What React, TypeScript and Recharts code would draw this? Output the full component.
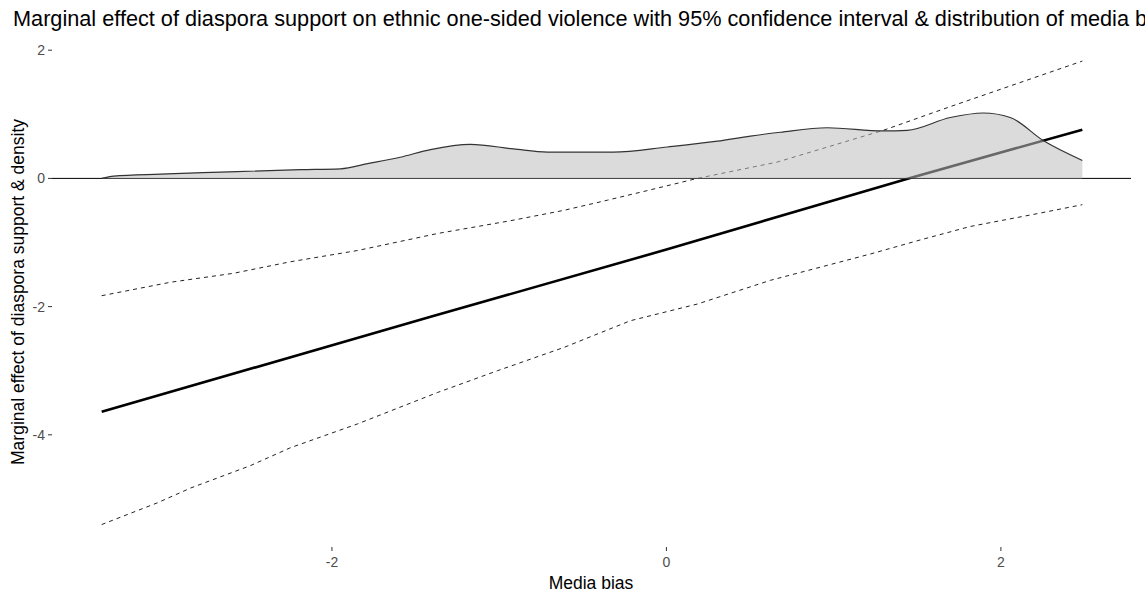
import { ComposedChart, Line, Area, XAxis, YAxis, ReferenceLine } from "recharts"

// marginal effect (solid line)
const effectX = [-3.377, -1.41, 0, 1.447, 2.487]
const effectY = [-3.64, -2.16, -1.11, 0, 0.76]

// upper bound of the 95% interval
const upperX = [-3.377, -2.965, -2.588, -2.247, -1.847, -1.369, -0.932, -0.616, -0.353, -0.114, 0.185, 0.663, 1.297, 1.698, 2.098, 2.487]
const upperY = [-1.83, -1.62, -1.48, -1.3, -1.125, -0.86, -0.66, -0.5, -0.34, -0.19, 0.0, 0.255, 0.75, 1.12, 1.48, 1.83]

// lower bound of the 95% interval
const lowerX = [-3.377, -3.043, -2.845, -2.487, -2.247, -1.847, -1.369, -1.01, -0.616, -0.215, 0.185, 0.622, 1.219, 1.518, 1.817, 2.218, 2.487]
const lowerY = [-5.4, -5.06, -4.83, -4.48, -4.2, -3.83, -3.34, -3.0, -2.64, -2.22, -1.96, -1.59, -1.18, -0.96, -0.75, -0.55, -0.41]

// density of media bias
const densX = [-3.377, -3.305, -3.025, -2.666, -2.188, -1.949, -1.787, -1.592, -1.411, -1.172, -0.915, -0.711, -0.317, 0.006, 0.305, 0.502, 0.681, 0.962, 1.297, 1.44, 1.698, 1.895, 2.056, 2.253, 2.487]
const densY = [0, 0.036, 0.067, 0.098, 0.136, 0.15, 0.23, 0.33, 0.45, 0.53, 0.46, 0.41, 0.41, 0.49, 0.58, 0.66, 0.72, 0.79, 0.74, 0.75, 0.95, 1.02, 0.95, 0.59, 0.28]

const xTicks = [-2, 0, 2]
const yTicks = [-4, -2, 0, 2]

const toPoints = (xs: number[], ys: number[]) => xs.map((x, i) => ({ x, y: ys[i] }))

const effectData = toPoints(effectX, effectY)
const upperData = toPoints(upperX, upperY)
const lowerData = toPoints(lowerX, lowerY)
const densData = toPoints(densX, densY)

const FONT = "'Liberation Sans', Arial, sans-serif"
const tickStyle = { fontSize: 14, fill: "#4D4D4D", fontFamily: FONT }

export default function App() {
  return (
    <div
      style={{
        position: "fixed",
        left: 0,
        top: 0,
        width: 1145,
        height: 595,
        background: "#fff",
        overflow: "hidden",
        fontFamily: FONT,
      }}
    >
      <div style={{ position: "absolute", left: 13, top: 8, fontSize: 21.7, lineHeight: "22px", whiteSpace: "nowrap", color: "#000" }}>
        Marginal effect of diaspora support on ethnic one-sided violence with 95% confidence interval &amp; distribution of media bias
      </div>
      <div
        style={{
          position: "absolute",
          left: 19,
          top: 292,
          transform: "translate(-50%, -50%) rotate(-90deg)",
          fontSize: 17.5,
          lineHeight: "17.5px",
          whiteSpace: "nowrap",
          color: "#000",
        }}
      >
        Marginal effect of diaspora support &amp; density
      </div>
      <div
        style={{
          position: "absolute",
          left: 591,
          top: 575,
          transform: "translateX(-50%)",
          fontSize: 17.5,
          lineHeight: "17.5px",
          whiteSpace: "nowrap",
          color: "#000",
        }}
      >
        Media bias
      </div>

      <ComposedChart width={1145} height={595} margin={{ top: 38, right: 14, bottom: 0, left: 0 }}>
        <XAxis
          type="number"
          dataKey="x"
          domain={[-3.674, 2.778]}
          allowDataOverflow
          ticks={xTicks}
          tick={tickStyle}
          tickSize={4}
          tickMargin={6}
          axisLine={false}
          tickLine={{ stroke: "#333333" }}
          height={48}
        />
        <YAxis
          type="number"
          dataKey="y"
          domain={[-5.75, 2.19]}
          allowDataOverflow
          ticks={yTicks}
          tick={tickStyle}
          tickSize={4}
          tickMargin={3}
          axisLine={false}
          tickLine={{ stroke: "#333333" }}
          width={52}
        />
        <ReferenceLine y={0} stroke="#000" strokeWidth={1} />
        <Line data={effectData} dataKey="y" type="linear" stroke="#000" strokeWidth={2.6} dot={false} isAnimationActive={false} />
        <Line data={upperData} dataKey="y" type="linear" stroke="#222" strokeWidth={1} strokeDasharray="4 4" dot={false} isAnimationActive={false} />
        <Line data={lowerData} dataKey="y" type="linear" stroke="#222" strokeWidth={1} strokeDasharray="4 4" dot={false} isAnimationActive={false} />
        <Area
          data={densData}
          dataKey="y"
          type="monotone"
          baseValue={0}
          fill="#BEBEBE"
          fillOpacity={0.55}
          stroke="#333333"
          strokeWidth={1.2}
          zIndex={500}
          isAnimationActive={false}
        />
      </ComposedChart>
    </div>
  )
}
